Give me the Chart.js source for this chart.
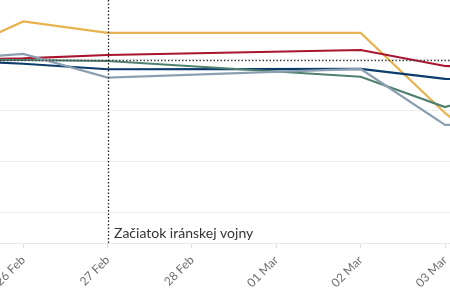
<!DOCTYPE html>
<html>
<head>
<meta charset="utf-8">
<script src="https://cdn.jsdelivr.net/npm/chart.js@4/dist/chart.umd.min.js"></script>
<style>
  html, body { margin: 0; padding: 0; background: #fff; }
  #chart { display: block; }
</style>
</head>
<body>
<canvas id="chart" width="450" height="300"></canvas>
<script>
// Trading days as day offsets from 26 Feb (-1 = 25 Feb, 4 = 02 Mar ...)
const days = [-1, 0, 1, 4, 5, 6];
const dateLabels = ['26 Feb', '27 Feb', '28 Feb', '01 Mar', '02 Mar', '03 Mar'];

// Index values (25 Feb = 100)
const yellow = [100, 103.75, 102.62, 102.62, 94.77, 88.2];
const red    = [100, 100.12, 100.46, 100.95, 99.38, 99.28];
const navy   = [100, 99.6, 99.06, 99.09, 98.11, 98.01];
const grey   = [100, 100.56, 98.24, 99.09, 93.6, 93.6];
const green  = [100, 99.97, 99.87, 98.33, 95.36, 97.52];

const yTicks = [85, 90, 95, 100];
const eventDay = 1;
const eventLabel = 'Začiatok iránskej vojny';

const toPoints = arr => arr.map((v, i) => ({ x: days[i], y: v }));

function line(data, color) {
    return {
        data: toPoints(data),
        borderColor: color,
        borderWidth: 2.2,
        pointRadius: 0,
        fill: false,
        tension: 0
    };
}

// dotted baseline, event line and its label
const markers = {
    id: 'markers',
    afterDatasetsDraw(chart) {
        const { ctx, chartArea, scales } = chart;
        const x = Math.round(scales.x.getPixelForValue(eventDay)) + 0.5;
        const y = Math.round(scales.y.getPixelForValue(100)) + 0.5;
        ctx.save();
        ctx.lineWidth = 1.3;
        ctx.setLineDash([1.5, 2]);
        ctx.strokeStyle = '#444';
        ctx.beginPath();
        ctx.moveTo(chartArea.left, y);
        ctx.lineTo(chartArea.right, y);
        ctx.stroke();
        ctx.strokeStyle = '#222';
        ctx.beginPath();
        ctx.moveTo(x, chartArea.top);
        ctx.lineTo(x, chartArea.bottom);
        ctx.stroke();
        ctx.setLineDash([]);
        ctx.fillStyle = '#333';
        ctx.font = '14px Lato';
        ctx.textBaseline = 'alphabetic';
        ctx.fillText(eventLabel, x + 5.5, chartArea.bottom - 5);
        ctx.restore();
    }
};

new Chart(document.getElementById('chart'), {
    type: 'line',
    data: {
        datasets: [
            line(grey, '#8c9fb1'),
            line(green, '#50806f'),
            line(navy, '#0c3c6c'),
            line(red, '#a9152e'),
            line(yellow, '#e8b34e')
        ]
    },
    options: {
        responsive: false,
        animation: false,
        layout: { padding: 0 },
        plugins: { legend: { display: false }, tooltip: { enabled: false } },
        scales: {
            x: {
                type: 'linear',
                min: -0.276,
                max: 5.059,
                afterBuildTicks: s => { s.ticks = dateLabels.map((_, i) => ({ value: i })); },
                afterFit: s => { s.height = 57; s.paddingLeft = 0; s.paddingRight = 0; },
                ticks: {
                    autoSkip: false,
                    minRotation: 45,
                    maxRotation: 45,
                    padding: 5,
                    color: '#707070',
                    font: { family: 'Lato', size: 12 },
                    callback: v => dateLabels[v]
                },
                grid: { drawOnChartArea: false, tickLength: 5, color: '#e0e0e0' },
                border: { color: '#e8e8e8' }
            },
            y: {
                min: 82.03,
                max: 105.85,
                afterBuildTicks: s => { s.ticks = yTicks.map(v => ({ value: v })); },
                afterFit: s => { s.width = 0; },
                ticks: { display: false },
                grid: { color: '#efefef', drawTicks: false },
                border: { display: false }
            }
        }
    },
    plugins: [markers]
});
</script>
</body>
</html>
